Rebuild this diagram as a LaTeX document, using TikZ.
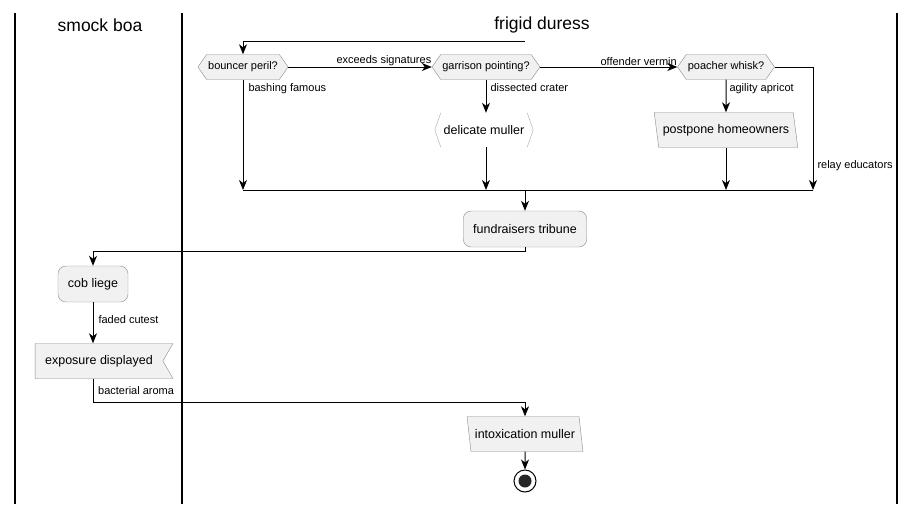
\documentclass[tikz,border=0pt]{standalone}
\usepackage{fontspec}
\setmainfont{Liberation Sans}
\usetikzlibrary{shapes.symbols,shapes.geometric,arrows.meta}
\definecolor{actfill}{HTML}{F1F1F1}
\definecolor{actline}{HTML}{8A8A8A}
\tikzstyle{act} = [rectangle, rounded corners=8pt, minimum height=36pt, inner xsep=10pt, draw=actline, fill=actfill, font=\fontsize{12.5}{14}\selectfont]
\tikzstyle{choice} = [signal, signal to=west and east, signal pointer angle=110, minimum height=25pt, inner xsep=1.5pt, inner ysep=0pt, draw=actline, fill=actfill, font=\fontsize{11}{13}\selectfont]
\tikzstyle{io} = [trapezium, trapezium left angle=104, trapezium right angle=76, trapezium stretches=true, minimum height=35pt, inner xsep=4pt, draw=actline, fill=actfill, font=\fontsize{12.5}{14}\selectfont]
\tikzstyle{recv} = [signal, signal to=nowhere, signal from=east, signal pointer angle=120, minimum height=35pt, inner xsep=10pt, draw=actline, fill=actfill, font=\fontsize{12.5}{14}\selectfont]
\tikzstyle{lbl} = [inner sep=0pt, font=\fontsize{11}{13}\selectfont]
\tikzstyle{title} = [font=\fontsize{17.5}{20}\selectfont]
\tikzstyle{lane} = [line width=1.4pt]
\tikzstyle{arrow} = [line width=1pt, -{Stealth[length=10pt,width=8pt,inset=3pt]}]

\begin{document}
\begin{tikzpicture}[x=1pt,y=-1pt]
\useasboundingbox (0,0) rectangle (916,504);

% Lanes
\draw [lane] (15,13) -- (15,504);
\draw [lane] (182,13) -- (182,504);
\draw [lane] (897,13) -- (897,504);
\node (boa) [title] at (100,25) {smock boa};
\node (duress) [title] at (542,25) {frigid duress};

% Nodes
\coordinate (start) at (525,41);
\node (peril) [choice] at (243,67) {bouncer peril?};
\node (garrison) [choice] at (486,67) {garrison pointing?};
\node (poacher) [choice] at (726,67) {poacher whisk?};
\node (muller) [minimum width=98pt, minimum height=34pt, font=\fontsize{12.5}{14}\selectfont] at (484,130) {delicate muller};
\node (postpone) [io] at (726,130) {postpone homeowners};
\coordinate (barL) at (243,190);
\coordinate (barR) at (813,190);
\coordinate (barM) at (525,190);
\node (fund) [act] at (525,229) {fundraisers tribune};
\node (cob) [act] at (93,284) {cob liege};
\node (expo) [recv] at (99,361) {exposure displayed};
\node (intox) [io] at (525,434) {intoxication muller};
\node (stop) [circle, draw, line width=1pt, minimum size=22pt, inner sep=0pt, path picture={\fill[black!85] (path picture bounding box.center) circle (6.5pt);}] at (525,481) {};

% Brackets of the muller box
\draw [black!35] ([xshift=6pt]muller.north west) -- (muller.west) -- ([xshift=6pt]muller.south west);
\draw [black!35] ([xshift=-6pt]muller.north east) -- (muller.east) -- ([xshift=-6pt]muller.south east);

% Arrows
\draw [arrow] (start) -| (peril.north);
\draw [arrow] (peril.east) -- (garrison.west) node [lbl, pos=1, anchor=south east, yshift=1pt] {exceeds signatures};
\draw [arrow] (garrison.east) -- (poacher.west) node [lbl, pos=1, anchor=south east, yshift=1pt] {offender vermin};
\draw [line width=1pt] (barL) -- (barR);
\draw [arrow] (peril.south) -- (peril.south |- barL) node [lbl, pos=0, anchor=north west, xshift=5pt, yshift=-3pt] {bashing famous};
\draw [arrow] (garrison.south) -- (muller.north -| garrison.south) node [lbl, pos=0, anchor=north west, xshift=4pt, yshift=-3pt] {dissected crater};
\draw [arrow] (muller.south -| garrison.south) -- (garrison.south |- barL);
\draw [arrow] (poacher.south) -- (postpone.north) node [lbl, pos=0, anchor=north west, xshift=3pt, yshift=-3pt] {agility apricot};
\draw [arrow] (postpone.south) -- (postpone.south |- barL);
\draw [arrow] (poacher.east) -- (barR |- poacher.east) -- (barR) node [lbl, pos=0.8, anchor=west, xshift=4pt] {relay educators};
\draw [arrow] (barM) -- (fund.north);
\draw [arrow] (fund.south) -- ++(0,4) -| (cob.north);
\draw [arrow] (cob.south) -- (cob.south |- expo.north) node [lbl, pos=0.42, anchor=west, xshift=5pt] {faded cutest};
\draw [arrow] (cob.south |- expo.south) -- ++(0,24) -| (intox.north);
\node (aroma) [lbl, anchor=west] at (98,391) {bacterial aroma};
\draw [arrow] (intox.south) -- (stop.north);

\end{tikzpicture}
\end{document}
